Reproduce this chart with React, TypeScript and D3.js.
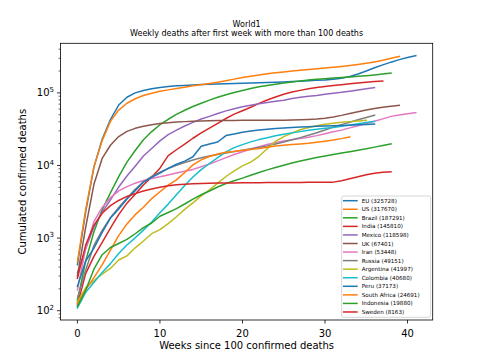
import React from "react";
import * as d3 from "d3";

const countries = ["EU", "US", "Brazil", "India", "Mexico", "UK", "Iran", "Russia", "Argentina", "Colombia", "Peru", "South Africa", "Indonesia", "Sweden"];
const colors = ["#1f77b4", "#ff7f0e", "#2ca02c", "#d62728", "#9467bd", "#8c564b", "#e377c2", "#7f7f7f", "#bcbd22", "#17becf", "#1f77b4", "#ff7f0e", "#2ca02c", "#d62728"];

const euValues = [430, 2300, 9500, 23000, 43000, 68000, 87000, 100000, 108000, 114000, 119000, 122000, 125000, 126500, 128500, 130000, 131500, 132500, 133500, 134500, 135500, 136500, 137500, 138500, 140000, 141500, 143000, 145000, 147000, 149000, 151000, 154000, 159000, 168000, 182000, 200000, 222000, 243000, 265000, 287000, 307000, 325728];
const usValues = [471, 2467, 9620, 22020, 40555, 58000, 72000, 83000, 92000, 99000, 105000, 110000, 115000, 119600, 125000, 129900, 135000, 140000, 146800, 154800, 162500, 170000, 176500, 183000, 189000, 194000, 199500, 204500, 209500, 214500, 219500, 225000, 230500, 237500, 246000, 256000, 266000, 281000, 299000, 317670];
const brazilValues = [136, 486, 1223, 2462, 4205, 7025, 11123, 16118, 22666, 29314, 36455, 43332, 50617, 57622, 64867, 72100, 79488, 87004, 94104, 101049, 107852, 114744, 121381, 126650, 131625, 136532, 141406, 146352, 150488, 153905, 157134, 159884, 162628, 165798, 169183, 172833, 176941, 181835, 187291];
const indiaValues = [120, 324, 559, 872, 1373, 2109, 3029, 4021, 5394, 6929, 9195, 13699, 16475, 19693, 23727, 28084, 32771, 38135, 44386, 50921, 56706, 63498, 71642, 79722, 87882, 95542, 102685, 108334, 114031, 118534, 122111, 126121, 129635, 133227, 136696, 140182, 143355, 145810];
const mexicoValues = [332, 712, 1434, 2271, 3353, 5045, 7179, 9779, 13511, 17141, 21825, 26648, 30639, 35006, 39184, 43680, 47472, 52006, 56543, 60480, 64414, 67558, 70821, 73697, 76430, 79088, 83945, 86893, 89814, 92100, 95842, 98861, 101676, 105459, 109717, 113953, 118598];
const ukValues = [300, 1400, 5500, 12500, 19000, 25000, 29500, 32500, 34800, 36500, 37800, 38800, 39600, 40200, 40700, 41100, 41400, 41600, 41700, 41800, 41850, 41900, 41950, 42000, 42050, 42150, 42300, 42600, 43100, 43800, 44900, 46600, 49000, 51900, 55000, 58000, 61000, 63300, 65500, 67401];
const iranValues = [194, 724, 1685, 2640, 3603, 4474, 5118, 5710, 6203, 6640, 6988, 7417, 7878, 8351, 8837, 9623, 10508, 11571, 12829, 14188, 15484, 16766, 18132, 19492, 20643, 21672, 22542, 23453, 24478, 25779, 27419, 29070, 30712, 32953, 35298, 37832, 40582, 43896, 47486, 49695, 51496, 53448];
const russiaValues = [148, 361, 794, 1280, 1915, 2631, 3541, 4693, 5971, 7081, 8111, 9073, 10027, 11017, 11937, 12745, 13504, 14207, 14903, 15585, 16268, 16978, 17759, 18635, 19799, 21077, 22597, 24187, 26050, 28235, 30793, 33931, 36540, 39527, 42684, 45893, 49151];
const argentinaValues = [132, 207, 260, 319, 382, 500, 569, 735, 913, 1150, 1307, 1582, 1968, 2490, 3059, 3813, 4606, 5703, 7054, 8457, 9859, 11148, 13400, 17000, 21500, 25000, 28000, 31000, 33300, 35300, 36900, 38200, 39300, 40200, 41100, 41997];
const colombiaValues = [109, 179, 244, 337, 445, 613, 803, 1009, 1289, 1667, 2237, 2939, 3949, 5307, 6929, 8777, 10650, 12842, 15372, 17612, 19400, 21156, 22734, 24039, 25641, 26844, 28141, 29272, 30565, 31515, 32595, 33491, 34761, 36214, 37467, 39053, 40680];
const peruValues = [216, 484, 728, 1200, 1889, 2523, 3456, 4506, 5903, 6860, 7861, 9135, 10412, 11500, 13187, 18418, 19811, 21072, 25856, 27245, 28788, 29838, 30710, 31586, 32324, 32914, 33419, 33820, 34257, 34671, 35031, 35402, 35685, 35963, 36274, 36677, 37173];
const southAfricaValues = [125, 194, 286, 429, 683, 1080, 1568, 2102, 2657, 3502, 4346, 5368, 6343, 8005, 10210, 11982, 13308, 14389, 15168, 15641, 16206, 16667, 17103, 17863, 18492, 18944, 19411, 19849, 20314, 20968, 21644, 22432, 23451, 24691];
const indonesiaValues = [114, 191, 373, 590, 743, 842, 959, 1148, 1391, 1613, 2000, 2250, 2550, 2950, 3450, 3950, 4450, 5050, 5650, 6150, 6700, 7350, 8000, 8700, 9400, 10100, 10800, 11500, 12200, 12900, 13500, 14200, 14850, 15500, 16200, 16950, 17900, 18900, 19880];
const swedenValues = [280, 800, 1500, 2200, 2800, 3300, 3750, 4100, 4450, 4750, 5000, 5250, 5420, 5530, 5600, 5650, 5690, 5720, 5740, 5760, 5780, 5790, 5800, 5810, 5820, 5830, 5840, 5850, 5860, 5870, 5880, 5900, 6150, 6550, 7000, 7450, 7800, 8050, 8163];

const xTicks = [0, 10, 20, 30, 40];
const yMajorExps = [2, 3, 4, 5];

const seriesValues = [euValues, usValues, brazilValues, indiaValues, mexicoValues, ukValues, iranValues, russiaValues, argentinaValues, colombiaValues, peruValues, southAfricaValues, indonesiaValues, swedenValues];

const W = 480, H = 360;
const L = 60.5, R = 432.7, T = 43.3, B = 320;
const FONT = "DejaVu Sans, sans-serif";

export default function App() {
  const x = d3.scaleLinear().domain([-2.05, 43.05]).range([L, R]);
  const y = d3.scaleLog().domain([Math.pow(10, 1.872), Math.pow(10, 5.683)]).range([B, T]);
  const line = d3.line<number>().x((_, i) => x(i)).y((v) => y(v));

  const [ymin, ymax] = y.domain();
  const minor: number[] = [];
  for (let e = 1; e <= 5; e++) {
    for (let m = 2; m <= 9; m++) {
      const v = m * Math.pow(10, e);
      if (v >= ymin && v <= ymax) minor.push(v);
    }
  }

  const series = countries.map((c, i) => {
    const vals = seriesValues[i];
    return { name: c, color: colors[i], values: vals, last: vals[vals.length - 1] };
  });

  const legX = 341.7, legY = 196, legW = 89, legH = 121.3;
  const rowY0 = 200.7, rowStep = 8.56;

  return (
    <svg width={W} height={H} style={{ position: "absolute", left: 0, top: 0, background: "#fff" }} fontFamily={FONT}>
      <defs>
        <clipPath id="plotclip">
          <rect x={L} y={T} width={R - L} height={B - T} />
        </clipPath>
      </defs>
      <rect x={0} y={0} width={W} height={H} fill="#fff" />
      <g clipPath="url(#plotclip)">
        {series.map((s) => (
          <path key={s.name} d={line(s.values) || ""} fill="none" stroke={s.color} strokeWidth={1.5} strokeLinejoin="round" strokeLinecap="square" />
        ))}
      </g>
      <rect x={L} y={T} width={R - L} height={B - T} fill="none" stroke="#000" strokeWidth={0.8} />
      {xTicks.map((t) => (
        <g key={"xt" + t}>
          <line x1={x(t)} x2={x(t)} y1={B} y2={B + 3.5} stroke="#000" strokeWidth={0.8} />
          <text x={x(t)} y={B + 16.5} fontSize={10} textAnchor="middle" fill="#000">{t}</text>
        </g>
      ))}
      {minor.map((v) => (
        <line key={"ym" + v} x1={L - 2} x2={L} y1={y(v)} y2={y(v)} stroke="#000" strokeWidth={0.6} />
      ))}
      {yMajorExps.map((e) => {
        const v = Math.pow(10, e);
        return (
          <g key={"yt" + e}>
            <line x1={L - 3.5} x2={L} y1={y(v)} y2={y(v)} stroke="#000" strokeWidth={0.8} />
            <text x={L - 6.5} y={y(v) + 3.6} fontSize={10} textAnchor="end" fill="#000">
              10<tspan fontSize={7} dy={-4.3}>{e}</tspan>
            </text>
          </g>
        );
      })}
      <text x={(L + R) / 2} y={348.5} fontSize={10} textAnchor="middle" fill="#000">Weeks since 100 confirmed deaths</text>
      <text transform={`translate(26,${(T + B) / 2}) rotate(-90)`} fontSize={10} textAnchor="middle" fill="#000">Cumulated confirmed deaths</text>
      <text x={(L + R) / 2} y={26.5} fontSize={8} textAnchor="middle" fill="#000">World1</text>
      <text x={(L + R) / 2} y={35.8} fontSize={8} textAnchor="middle" fill="#000">Weekly deaths after first week with more than 100 deaths</text>
      <rect x={legX} y={legY} width={legW} height={legH} rx={2} fill="#fff" fillOpacity={0.8} stroke="#cccccc" strokeWidth={0.8} />
      {series.map((s, i) => {
        const ry = rowY0 + i * rowStep;
        return (
          <g key={"leg" + s.name}>
            <line x1={342.9} x2={357.7} y1={ry} y2={ry} stroke={s.color} strokeWidth={1.5} />
            <text x={361.7} y={ry + 2} fontSize={5.6} fill="#000">{`${s.name} (${s.last})`}</text>
          </g>
        );
      })}
    </svg>
  );
}
